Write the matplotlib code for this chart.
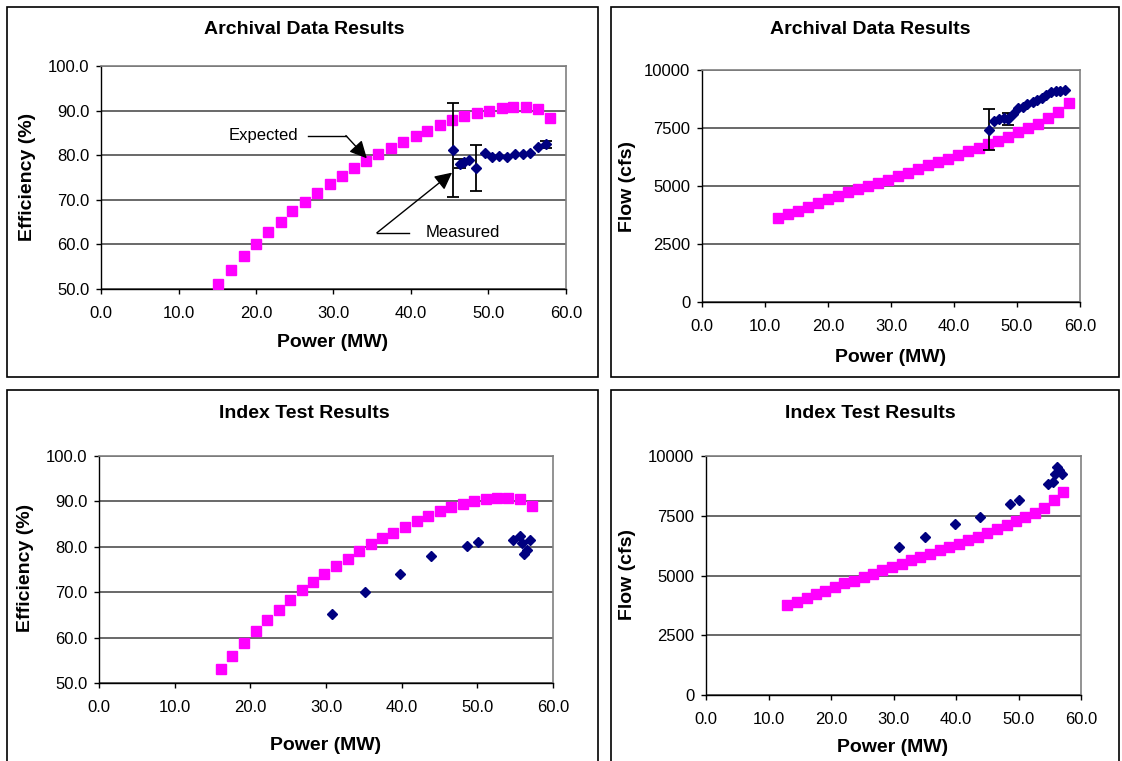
#!/usr/bin/env python3
from __future__ import annotations

import matplotlib

matplotlib.use("Agg")
import matplotlib.pyplot as plt
from matplotlib.patches import Rectangle
from matplotlib.ticker import FormatStrFormatter, MultipleLocator

# --- Archival data: efficiency vs power ---
arch_eff_exp_power = [15.1, 16.8, 18.4, 20.0, 21.6, 23.2, 24.7, 26.3, 27.9, 29.5,
                      31.1, 32.7, 34.2, 35.8, 37.4, 39.0, 40.6, 42.1, 43.7, 45.3,
                      46.9, 48.5, 50.1, 51.7, 53.2, 54.8, 56.4, 58.0]
arch_eff_exp = [51.1, 54.3, 57.3, 60.0, 62.8, 65.1, 67.4, 69.6, 71.6, 73.6,
                75.4, 77.1, 78.7, 80.3, 81.7, 83.0, 84.2, 85.4, 86.7, 87.8,
                88.8, 89.4, 90.0, 90.5, 90.8, 90.8, 90.3, 88.4]
arch_eff_meas_power = [45.4, 46.3, 46.8, 47.5, 48.4, 49.5, 50.5, 51.4, 52.4, 53.4,
                       54.4, 55.4, 56.4, 57.4]
arch_eff_meas = [81.2, 78.1, 78.5, 78.9, 77.1, 80.5, 79.7, 79.8, 79.7, 80.3,
                 80.3, 80.6, 81.9, 82.4]
arch_eff_meas_err = [10.6, 1.0, 0, 0, 5.2, 0, 0, 0, 0, 0, 0, 0, 0, 0.7]

# --- Archival data: flow vs power ---
arch_flow_exp_power = [12.1, 13.7, 15.3, 16.9, 18.4, 20.0, 21.6, 23.2, 24.8, 26.4,
                       28.0, 29.6, 31.1, 32.7, 34.3, 35.9, 37.5, 39.1, 40.7, 42.3,
                       43.9, 45.4, 47.0, 48.6, 50.2, 51.7, 53.3, 54.9, 56.5, 58.2]
arch_flow_exp = [3640, 3800, 3940, 4100, 4260, 4420, 4560, 4720, 4880, 5020,
                 5140, 5280, 5440, 5580, 5730, 5890, 6030, 6170, 6330, 6500,
                 6650, 6790, 6960, 7120, 7310, 7480, 7680, 7930, 8200, 8590]
arch_flow_meas_power = [45.6, 46.4, 47.2, 47.9, 48.6, 49.4, 50.2, 50.9, 51.6, 52.5,
                        53.2, 53.9, 54.6, 55.4, 56.2, 56.9, 57.6]
arch_flow_meas = [7430, 7800, 7880, 7950, 7880, 8090, 8350, 8420, 8520, 8610,
                  8710, 8810, 8920, 9040, 9090, 9100, 9140]
arch_flow_meas_err = [870, 0, 0, 0, 250, 0, 0, 0, 0, 0, 0, 0, 0, 0, 0, 0, 0]

# --- Index test: efficiency vs power ---
idx_eff_exp_power = [16.1, 17.6, 19.2, 20.7, 22.2, 23.8, 25.3, 26.8, 28.3, 29.8,
                     31.3, 32.9, 34.4, 35.9, 37.4, 38.9, 40.5, 42.0, 43.5, 45.0,
                     46.5, 48.1, 49.6, 51.1, 52.6, 54.1, 55.7, 57.2]
idx_eff_exp = [53.1, 56.0, 58.8, 61.4, 63.8, 66.1, 68.3, 70.4, 72.3, 74.1,
               75.8, 77.4, 79.0, 80.6, 81.9, 83.1, 84.4, 85.6, 86.7, 87.8,
               88.7, 89.4, 90.0, 90.5, 90.8, 90.8, 90.5, 89.0]
idx_eff_meas_power = [30.8, 35.1, 39.8, 43.9, 48.6, 50.1, 54.7, 55.6, 55.9, 56.2, 56.5, 57.0]
idx_eff_meas = [65.3, 70.0, 73.9, 78.0, 80.1, 81.0, 81.5, 82.3, 80.8, 78.4, 79.2, 81.4]

# --- Index test: flow vs power ---
idx_flow_exp_power = [13.0, 14.6, 16.1, 17.6, 19.1, 20.6, 22.1, 23.7, 25.2, 26.7,
                      28.2, 29.8, 31.3, 32.8, 34.3, 35.9, 37.4, 38.9, 40.4, 41.9,
                      43.5, 45.0, 46.5, 48.1, 49.6, 51.1, 52.6, 54.1, 55.6, 57.1]
idx_flow_exp = [3770, 3910, 4050, 4220, 4360, 4510, 4670, 4790, 4930, 5070,
                5210, 5350, 5490, 5630, 5770, 5910, 6050, 6190, 6330, 6470,
                6630, 6770, 6940, 7110, 7260, 7440, 7610, 7820, 8140, 8480]
idx_flow_meas_power = [30.8, 35.0, 39.8, 43.8, 48.6, 50.1, 54.7, 55.5, 55.8, 56.1, 56.5, 57.0]
idx_flow_meas = [6210, 6630, 7150, 7440, 8000, 8160, 8840, 8930, 9230, 9530, 9400, 9240]

EXPECTED_COLOR = "#FF00FF"
MEASURED_COLOR = "#000080"
FIG_W, FIG_H = 1122, 761


def _rect(left: float, top: float, right: float, bottom: float) -> list[float]:
    """Pixel box (y down) -> figure fraction [x0, y0, w, h]."""
    return [left / FIG_W, 1 - bottom / FIG_H, (right - left) / FIG_W, (bottom - top) / FIG_H]


def _fig_text(fig, x: float, y: float, s: str, **kw) -> None:
    fig.text(x / FIG_W, 1 - y / FIG_H, s, ha="center", va="center", **kw)


def _style_axes(ax, ymin: float, ymax: float, ystep: float, yfmt: str) -> None:
    ax.set_xlim(0, 60)
    ax.set_ylim(ymin, ymax)
    ax.xaxis.set_major_locator(MultipleLocator(10))
    ax.yaxis.set_major_locator(MultipleLocator(ystep))
    ax.xaxis.set_major_formatter(FormatStrFormatter("%.1f"))
    ax.yaxis.set_major_formatter(FormatStrFormatter(yfmt))
    ax.grid(axis="y", color="#404040", lw=1.1)
    ax.set_axisbelow(True)
    for side in ("top", "right"):
        ax.spines[side].set_color("#808080")
        ax.spines[side].set_linewidth(1.2)
    for side in ("left", "bottom"):
        ax.spines[side].set_color("black")
        ax.spines[side].set_linewidth(1.0)
    ax.tick_params(direction="out", length=3.5, width=1, labelsize=12)
    ax.tick_params(axis="x", pad=9)
    ax.tick_params(axis="y", pad=5)


def _scatter(ax, xs, ys, meas_x, meas_y, errs=None) -> None:
    ax.plot(xs, ys, "s", color=EXPECTED_COLOR, mec=EXPECTED_COLOR, ms=7, zorder=3)
    if errs is not None:
        ex = [x for x, e in zip(meas_x, errs) if e]
        ey = [y for y, e in zip(meas_y, errs) if e]
        ee = [e for e in errs if e]
        ax.errorbar(ex, ey, yerr=ee, fmt="none", ecolor="black", elinewidth=1.3,
                    capsize=4, capthick=1.3, zorder=4)
    ax.plot(meas_x, meas_y, "D", color=MEASURED_COLOR, mec=MEASURED_COLOR, ms=5.2, zorder=5)


def _panel_border(fig, left: float, top: float, right: float, bottom: float) -> None:
    x0, y0, w, h = _rect(left, top, right, bottom)
    fig.patches.append(Rectangle((x0, y0), w, h, transform=fig.transFigure,
                                 fill=False, ec="black", lw=1.2))


def _callout(ax, label: str, text_xy, elbow_x: float, tip_xy, ha: str) -> None:
    """Text with a short leader line and a filled arrow to a point."""
    tx, ty = text_xy
    ax.text(tx, ty, label, ha=ha, va="center", fontsize=12)
    start = tx + 1.3 if ha == "right" else tx - 2.1
    ax.plot([start, elbow_x], [ty, ty], color="black", lw=1.0)
    ax.annotate("", xy=tip_xy, xytext=(elbow_x, ty),
                arrowprops=dict(arrowstyle="-|>", color="black", lw=1.0,
                                mutation_scale=26, shrinkA=0, shrinkB=0))


def main() -> int:
    plt.rcParams["font.family"] = ["Liberation Sans", "DejaVu Sans"]
    fig = plt.figure(figsize=(FIG_W / 100, FIG_H / 100), dpi=100)

    _panel_border(fig, 7, 7, 598, 377)
    _panel_border(fig, 611, 7, 1119, 377)
    _panel_border(fig, 7, 390, 598, 800)
    _panel_border(fig, 611, 390, 1119, 800)

    # Archival efficiency
    ax = fig.add_axes(_rect(101, 66, 566, 289))
    _style_axes(ax, 50, 100, 10, "%.1f")
    _scatter(ax, arch_eff_exp_power, arch_eff_exp, arch_eff_meas_power, arch_eff_meas,
             arch_eff_meas_err)
    _callout(ax, "Expected", (25.4, 84.4), 31.6, (34.3, 79.3), "right")
    _callout(ax, "Measured", (41.9, 62.6), 35.6, (45.3, 76.1), "left")
    _fig_text(fig, 304, 30, "Archival Data Results", fontsize=14, fontweight="bold")
    _fig_text(fig, 333, 342, "Power (MW)", fontsize=14, fontweight="bold")
    _fig_text(fig, 27, 177, "Efficiency (%)", fontsize=14, fontweight="bold", rotation=90)

    # Archival flow
    ax = fig.add_axes(_rect(702, 70, 1080, 302))
    _style_axes(ax, 0, 10000, 2500, "%d")
    _scatter(ax, arch_flow_exp_power, arch_flow_exp, arch_flow_meas_power, arch_flow_meas,
             arch_flow_meas_err)
    _fig_text(fig, 870, 30, "Archival Data Results", fontsize=14, fontweight="bold")
    _fig_text(fig, 891, 358, "Power (MW)", fontsize=14, fontweight="bold")
    _fig_text(fig, 628, 187, "Flow (cfs)", fontsize=14, fontweight="bold", rotation=90)

    # Index test efficiency
    ax = fig.add_axes(_rect(99, 456, 553, 683))
    _style_axes(ax, 50, 100, 10, "%.1f")
    _scatter(ax, idx_eff_exp_power, idx_eff_exp, idx_eff_meas_power, idx_eff_meas)
    _fig_text(fig, 304, 414, "Index Test Results", fontsize=14, fontweight="bold")
    _fig_text(fig, 326, 745, "Power (MW)", fontsize=14, fontweight="bold")
    _fig_text(fig, 25, 568, "Efficiency (%)", fontsize=14, fontweight="bold", rotation=90)

    # Index test flow
    ax = fig.add_axes(_rect(706, 456, 1081, 695))
    _style_axes(ax, 0, 10000, 2500, "%d")
    _scatter(ax, idx_flow_exp_power, idx_flow_exp, idx_flow_meas_power, idx_flow_meas)
    _fig_text(fig, 870, 414, "Index Test Results", fontsize=14, fontweight="bold")
    _fig_text(fig, 893, 747, "Power (MW)", fontsize=14, fontweight="bold")
    _fig_text(fig, 628, 575, "Flow (cfs)", fontsize=14, fontweight="bold", rotation=90)

    fig.savefig("out.png", dpi=100)
    plt.close(fig)
    return 0


if __name__ == "__main__":
    raise SystemExit(main())
